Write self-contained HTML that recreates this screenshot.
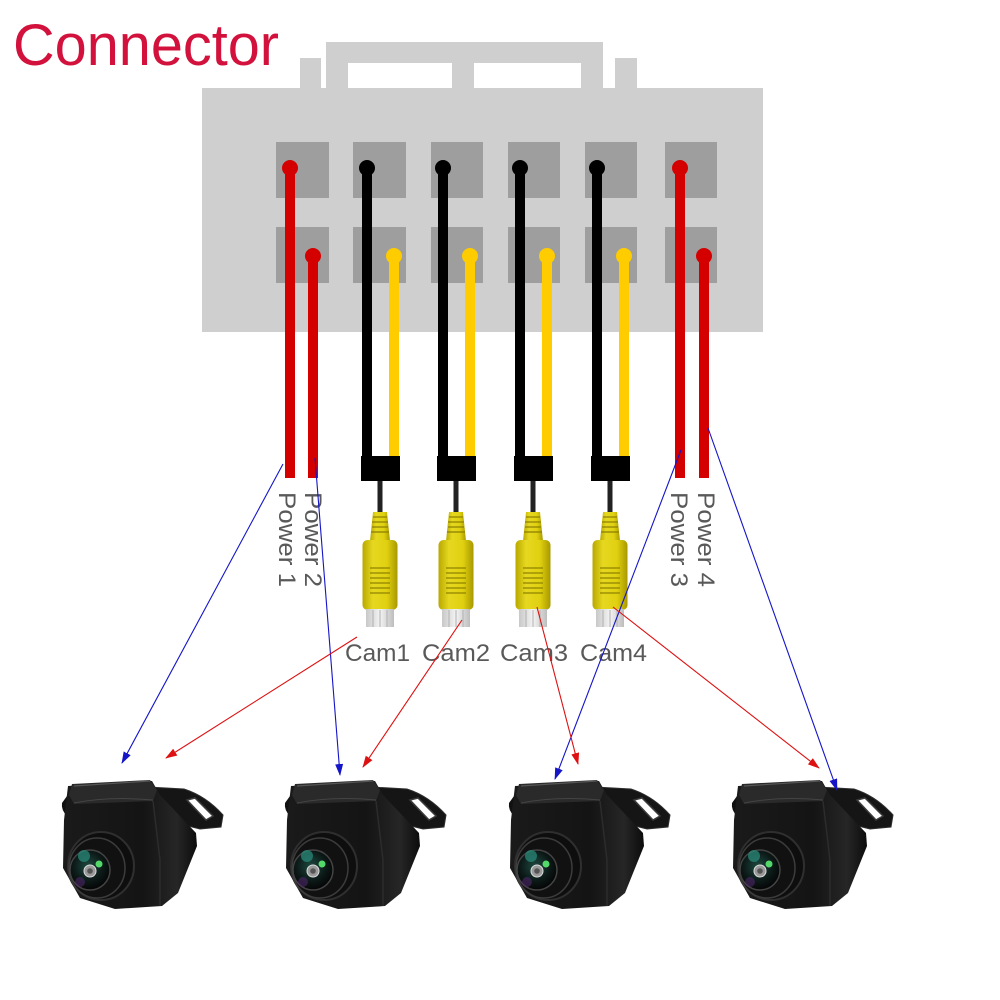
<!DOCTYPE html>
<html>
<head>
<meta charset="utf-8">
<style>
html,body{margin:0;padding:0;background:#fff;}
svg{display:block;}
text{font-family:"Liberation Sans", sans-serif;}
</style>
</head>
<body>
<svg width="1000" height="1000" viewBox="0 0 1000 1000" xmlns="http://www.w3.org/2000/svg">
<defs>
  <marker id="ab" markerWidth="12" markerHeight="8" refX="11" refY="4" orient="auto" markerUnits="userSpaceOnUse">
    <path d="M0,0 L12,4 L0,8 Z" fill="#1414c8"/>
  </marker>
  <marker id="ar" markerWidth="12" markerHeight="8" refX="11" refY="4" orient="auto" markerUnits="userSpaceOnUse">
    <path d="M0,0 L12,4 L0,8 Z" fill="#dd1111"/>
  </marker>
  <linearGradient id="plugG" x1="0" x2="1" y1="0" y2="0">
    <stop offset="0" stop-color="#b8a800"/>
    <stop offset="0.3" stop-color="#e6d820"/>
    <stop offset="0.7" stop-color="#e0d010"/>
    <stop offset="1" stop-color="#a89800"/>
  </linearGradient>
  <linearGradient id="tipG" x1="0" x2="1" y1="0" y2="0">
    <stop offset="0" stop-color="#c8c8c8"/>
    <stop offset="0.5" stop-color="#f4f4f4"/>
    <stop offset="1" stop-color="#bdbdbd"/>
  </linearGradient>
  <radialGradient id="glass" cx="0.45" cy="0.4" r="0.6">
    <stop offset="0" stop-color="#1e4a40"/>
    <stop offset="0.6" stop-color="#0c1a18"/>
    <stop offset="1" stop-color="#050505"/>
  </radialGradient>
  <linearGradient id="bodyG" x1="0" x2="1" y1="0" y2="0">
    <stop offset="0" stop-color="#1a1a1a"/>
    <stop offset="0.6" stop-color="#141414"/>
    <stop offset="0.85" stop-color="#262626"/>
    <stop offset="1" stop-color="#0c0c0c"/>
  </linearGradient>

  <g id="plug">
    <rect x="-2.5" y="481" width="5" height="32" fill="#222"/>
    <path d="M-7,512 L7,512 L10,541 L-10,541 Z" fill="url(#plugG)"/>
    <g stroke="#8a7e00" stroke-width="1.2">
      <line x1="-7" y1="517" x2="7" y2="517"/>
      <line x1="-8" y1="522" x2="8" y2="522"/>
      <line x1="-8" y1="527" x2="8" y2="527"/>
      <line x1="-9" y1="532" x2="9" y2="532"/>
    </g>
    <rect x="-17.5" y="540" width="35" height="70" rx="5" fill="url(#plugG)"/>
    <g stroke="#8f8300" stroke-width="1.3">
      <line x1="-10" y1="568" x2="10" y2="568"/>
      <line x1="-10" y1="573" x2="10" y2="573"/>
      <line x1="-10" y1="578" x2="10" y2="578"/>
      <line x1="-10" y1="583" x2="10" y2="583"/>
      <line x1="-10" y1="588" x2="10" y2="588"/>
      <line x1="-10" y1="593" x2="10" y2="593"/>
    </g>
    <rect x="-14" y="609" width="28" height="18" fill="url(#tipG)"/>
    <g stroke="#b0b0b0" stroke-width="1">
      <line x1="-7" y1="610" x2="-7" y2="627"/>
      <line x1="0" y1="610" x2="0" y2="627"/>
      <line x1="7" y1="610" x2="7" y2="627"/>
    </g>
  </g>

  <g id="cam">
    <!-- left tab -->
    <path d="M67,796 L80,789 L81,812 L67,816 Q61,810 62,803 Z" fill="#111"/>
    <!-- right tab -->
    <path d="M148,787 L184,789 Q206,796 223,815 L221,827 L200,829 L148,816 Z" fill="#151515" stroke="#2e2e2e" stroke-width="1"/>
    <path d="M187,800 L195,798 L213,816 L206,820 Z" fill="#fff" stroke="#3a3a3a" stroke-width="1.5"/>
    <!-- body -->
    <path d="M68,786 L152,781 L160,795 L196,833 L197,846 L178,893 L162,906 L115,909 L80,898 L63,868 L64,820 Z" fill="url(#bodyG)"/>
    <!-- top plate -->
    <path d="M72,784 L150,780 L157,790 L153,801 L74,804 L69,795 Z" fill="#2a2a2a"/>
    <path d="M74,786 L150,781" stroke="#555" stroke-width="1.2" fill="none"/>
    <path d="M74,803 Q110,796 153,800" stroke="#444" stroke-width="1" fill="none"/>
    <!-- right face edge -->
    <path d="M153,801 L160,860 L160,906" stroke="#2c2c2c" stroke-width="1.5" fill="none"/>
    <!-- lens barrel -->
    <ellipse cx="101" cy="866" rx="33" ry="34" fill="#0e0e0e" stroke="#2f2f2f" stroke-width="2"/>
    <ellipse cx="97" cy="868" rx="28" ry="30" fill="#111" stroke="#3c3c3c" stroke-width="1.5"/>
    <circle cx="90" cy="870" r="20" fill="url(#glass)" stroke="#444" stroke-width="1.5"/>
    <circle cx="84" cy="856" r="6" fill="#2a8a7a" opacity="0.75"/>
    <circle cx="99" cy="864" r="3.5" fill="#55d86a"/>
    <circle cx="80" cy="882" r="5" fill="#5a2a7a" opacity="0.5"/>
    <circle cx="90" cy="871" r="6" fill="#9a9a9a" stroke="#ddd" stroke-width="1"/>
    <circle cx="90" cy="871" r="2.8" fill="#555"/>
  </g>
</defs>

<!-- Title -->
<text x="13" y="65" font-size="58" fill="#d2123c" textLength="266" lengthAdjust="spacingAndGlyphs">Connector</text>

<!-- Connector housing -->
<rect x="326" y="42" width="277" height="47" fill="#cfcfcf"/>
<rect x="348" y="63" width="104" height="26" fill="#fff"/>
<rect x="474" y="63" width="107" height="26" fill="#fff"/>
<rect x="300" y="58" width="21" height="31" fill="#cfcfcf"/>
<rect x="615" y="58" width="22" height="31" fill="#cfcfcf"/>
<rect x="202" y="88" width="561" height="244" fill="#cfcfcf"/>

<!-- pin squares -->
<g fill="#9e9e9e">
  <rect x="276" y="142" width="53" height="56"/>
  <rect x="353" y="142" width="53" height="56"/>
  <rect x="431" y="142" width="52" height="56"/>
  <rect x="508" y="142" width="52" height="56"/>
  <rect x="585" y="142" width="52" height="56"/>
  <rect x="665" y="142" width="52" height="56"/>
  <rect x="276" y="227" width="53" height="56"/>
  <rect x="353" y="227" width="53" height="56"/>
  <rect x="431" y="227" width="52" height="56"/>
  <rect x="508" y="227" width="52" height="56"/>
  <rect x="585" y="227" width="52" height="56"/>
  <rect x="665" y="227" width="52" height="56"/>
</g>

<!-- wires -->
<g stroke-width="10" fill="none">
  <line x1="290" y1="168" x2="290" y2="478" stroke="#d40000"/>
  <line x1="313" y1="256" x2="313" y2="478" stroke="#d40000"/>
  <line x1="680" y1="168" x2="680" y2="478" stroke="#d40000"/>
  <line x1="704" y1="256" x2="704" y2="478" stroke="#d40000"/>
  <line x1="367" y1="168" x2="367" y2="460" stroke="#000"/>
  <line x1="443" y1="168" x2="443" y2="460" stroke="#000"/>
  <line x1="520" y1="168" x2="520" y2="460" stroke="#000"/>
  <line x1="597" y1="168" x2="597" y2="460" stroke="#000"/>
  <line x1="394" y1="256" x2="394" y2="460" stroke="#ffcc00"/>
  <line x1="470" y1="256" x2="470" y2="460" stroke="#ffcc00"/>
  <line x1="547" y1="256" x2="547" y2="460" stroke="#ffcc00"/>
  <line x1="624" y1="256" x2="624" y2="460" stroke="#ffcc00"/>
</g>
<g>
  <circle cx="290" cy="168" r="8" fill="#d40000"/>
  <circle cx="313" cy="256" r="8" fill="#d40000"/>
  <circle cx="680" cy="168" r="8" fill="#d40000"/>
  <circle cx="704" cy="256" r="8" fill="#d40000"/>
  <circle cx="367" cy="168" r="8" fill="#000"/>
  <circle cx="443" cy="168" r="8" fill="#000"/>
  <circle cx="520" cy="168" r="8" fill="#000"/>
  <circle cx="597" cy="168" r="8" fill="#000"/>
  <circle cx="394" cy="256" r="8" fill="#ffcc00"/>
  <circle cx="470" cy="256" r="8" fill="#ffcc00"/>
  <circle cx="547" cy="256" r="8" fill="#ffcc00"/>
  <circle cx="624" cy="256" r="8" fill="#ffcc00"/>
</g>

<!-- black blocks -->
<g fill="#000">
  <rect x="361" y="456" width="39" height="25"/>
  <rect x="437" y="456" width="39" height="25"/>
  <rect x="514" y="456" width="39" height="25"/>
  <rect x="591" y="456" width="39" height="25"/>
</g>

<!-- plugs -->
<use href="#plug" x="380" y="0"/>
<use href="#plug" x="456" y="0"/>
<use href="#plug" x="533" y="0"/>
<use href="#plug" x="610" y="0"/>

<!-- power labels -->
<g font-size="24" fill="#595959">
  <text transform="translate(279,492) rotate(90)" textLength="95" lengthAdjust="spacingAndGlyphs">Power 1</text>
  <text transform="translate(305,492) rotate(90)" textLength="95" lengthAdjust="spacingAndGlyphs">Power 2</text>
  <text transform="translate(671,492) rotate(90)" textLength="95" lengthAdjust="spacingAndGlyphs">Power 3</text>
  <text transform="translate(698,492) rotate(90)" textLength="95" lengthAdjust="spacingAndGlyphs">Power 4</text>
</g>

<!-- cam labels -->
<g font-size="24" fill="#595959">
  <text x="345" y="661" textLength="65" lengthAdjust="spacingAndGlyphs">Cam1</text>
  <text x="422" y="661" textLength="68" lengthAdjust="spacingAndGlyphs">Cam2</text>
  <text x="500" y="661" textLength="68" lengthAdjust="spacingAndGlyphs">Cam3</text>
  <text x="580" y="661" textLength="67" lengthAdjust="spacingAndGlyphs">Cam4</text>
</g>

<!-- cameras -->
<use href="#cam" x="0" y="0"/>
<use href="#cam" x="223" y="0"/>
<use href="#cam" x="447" y="0"/>
<use href="#cam" x="670" y="0"/>

<!-- arrows -->
<g stroke-width="1.1" fill="none">
  <line x1="283" y1="464" x2="122" y2="763" stroke="#1414c8" marker-end="url(#ab)"/>
  <line x1="315" y1="458" x2="340" y2="775" stroke="#1414c8" marker-end="url(#ab)"/>
  <line x1="681" y1="450" x2="555" y2="779" stroke="#1414c8" marker-end="url(#ab)"/>
  <line x1="708" y1="428" x2="837" y2="790" stroke="#1414c8" marker-end="url(#ab)"/>
  <line x1="357" y1="637" x2="166" y2="758" stroke="#dd1111" marker-end="url(#ar)"/>
  <line x1="462" y1="620" x2="363" y2="767" stroke="#dd1111" marker-end="url(#ar)"/>
  <line x1="537" y1="607" x2="578" y2="764" stroke="#dd1111" marker-end="url(#ar)"/>
  <line x1="613" y1="607" x2="819" y2="768" stroke="#dd1111" marker-end="url(#ar)"/>
</g>
</svg>
</body>
</html>
